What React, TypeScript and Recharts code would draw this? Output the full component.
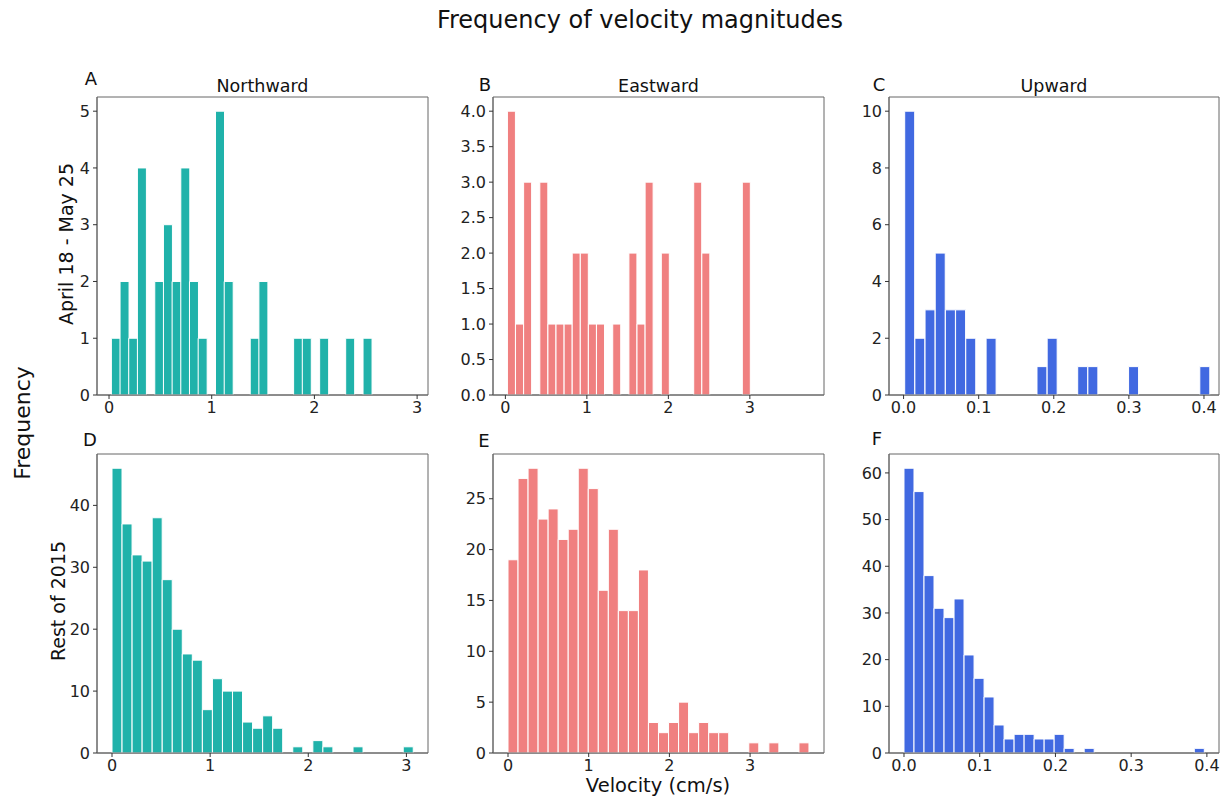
import React from 'react';
import { BarChart, Bar, XAxis, YAxis, ReferenceArea } from 'recharts';

const FONT = "'DejaVu Sans', Verdana, sans-serif";

// counts per bin (30 bins each)
const northTopCounts = [1, 2, 1, 4, 0, 2, 3, 2, 4, 2, 1, 0, 5, 2, 0, 0, 1, 2, 0, 0, 0, 1, 1, 0, 1, 0, 0, 1, 0, 1];
const eastTopCounts = [4, 1, 3, 0, 3, 1, 1, 1, 2, 2, 1, 1, 0, 1, 0, 2, 1, 3, 0, 2, 0, 0, 0, 3, 2, 0, 0, 0, 0, 3];
const upTopCounts = [10, 2, 3, 5, 3, 3, 2, 0, 2, 0, 0, 0, 0, 1, 2, 0, 0, 1, 1, 0, 0, 0, 1, 0, 0, 0, 0, 0, 0, 1];
const northRestCounts = [46, 37, 32, 31, 38, 28, 20, 16, 15, 7, 12, 10, 10, 5, 4, 6, 4, 0, 1, 0, 2, 1, 0, 0, 1, 0, 0, 0, 0, 1];
const eastRestCounts = [19, 27, 28, 23, 24, 21, 22, 28, 26, 16, 22, 14, 14, 18, 3, 2, 3, 5, 2, 3, 2, 2, 0, 0, 1, 0, 1, 0, 0, 1];
const upRestCounts = [61, 56, 38, 31, 29, 33, 21, 16, 12, 6, 3, 4, 4, 3, 3, 4, 1, 0, 1, 0, 0, 0, 0, 0, 0, 0, 0, 0, 0, 1];

// outer bin edges (cm/s)
const northTopEdges = [0.023, 2.558];
const eastTopEdges = [0.025, 3.007];
const upTopEdges = [0.0015, 0.408];
const northRestEdges = [0.0, 3.07];
const eastRestEdges = [0.0, 3.73];
const upRestEdges = [0.0, 0.3966];

// axis ranges
const northTopX = [-0.117, 3.106];
const eastTopX = [-0.152, 3.91];
const upTopX = [-0.0194, 0.42];
const northRestX = [-0.153, 3.22];
const eastRestX = [-0.186, 3.916];
const upRestX = [-0.0198, 0.416];

const northTopY = [0, 5.25];
const eastTopY = [0, 4.2];
const upTopY = [0, 10.5];
const northRestY = [0, 48.3];
const eastRestY = [0, 29.4];
const upRestY = [0, 64.05];

// tick labels
const wholeTicks = [0, 1, 2, 3];
const upTicks = [0, 0.1, 0.2, 0.3, 0.4];
const northTopYTicks = [0, 1, 2, 3, 4, 5];
const eastTopYTicks = [0, 0.5, 1, 1.5, 2, 2.5, 3, 3.5, 4];
const upTopYTicks = [0, 2, 4, 6, 8, 10];
const northRestYTicks = [0, 10, 20, 30, 40];
const eastRestYTicks = [0, 5, 10, 15, 20, 25];
const upRestYTicks = [0, 10, 20, 30, 40, 50, 60];

const columnTitles = ['Northward', 'Eastward', 'Upward'];
const rowLabels = ['April 18 - May 25', 'Rest of 2015'];
const panelLetters = ['A', 'B', 'C', 'D', 'E', 'F'];

const TEAL = '#20b2aa';
const CORAL = '#f08080';
const BLUE = '#4169e1';
const SPINE = '#666';

const binRows = (counts: number[], edges: number[]) => {
  const w = (edges[1] - edges[0]) / counts.length;
  return counts.map((count, i) => ({ v: edges[0] + (i + 0.5) * w, count }));
};

const fmt1 = (v: number) => v.toFixed(1);
const fmt0 = (v: number) => String(v);

type PanelProps = {
  left: number;
  top: number;
  w: number;
  h: number;
  rows: { v: number; count: number }[];
  color: string;
  xDomain: number[];
  yDomain: number[];
  xTicks: number[];
  yTicks: number[];
  xFmt?: (v: number) => string;
  yFmt?: (v: number) => string;
};

const tickStyle = { fontFamily: FONT, fontSize: 16, fill: '#222' };

const Panel: React.FC<PanelProps> = ({ left, top, w, h, rows, color, xDomain, yDomain, xTicks, yTicks, xFmt = fmt0, yFmt = fmt0 }) => {
  const yw = 60;
  return (
    <div style={{ position: 'absolute', left: left - yw, top: top - 10 }}>
      <BarChart
        width={w + yw + 10}
        height={h + 40}
        data={rows}
        margin={{ top: 10, right: 10, left: 0, bottom: 0 }}
        barCategoryGap={0}
        barGap={0}
      >
        <XAxis
          dataKey="v"
          type="number"
          domain={xDomain}
          ticks={xTicks}
          tickFormatter={xFmt}
          allowDataOverflow
          height={30}
          tick={tickStyle}
          tickSize={4}
          tickMargin={3}
          stroke={SPINE}
          tickLine={{ stroke: '#333' }}
        />
        <YAxis
          type="number"
          domain={yDomain}
          ticks={yTicks}
          tickFormatter={yFmt}
          allowDataOverflow
          width={yw}
          tick={tickStyle}
          tickSize={4}
          tickMargin={3}
          stroke={SPINE}
          tickLine={{ stroke: '#333' }}
        />
        <Bar dataKey="count" fill={color} stroke="#fff" strokeWidth={1} isAnimationActive={false} />
        {/* axes frame */}
        <ReferenceArea
          x1={xDomain[0]}
          x2={xDomain[1]}
          y1={yDomain[0]}
          y2={yDomain[1]}
          fill="none"
          fillOpacity={0}
          stroke={SPINE}
          strokeWidth={1}
          ifOverflow="visible"
        />
      </BarChart>
    </div>
  );
};

const App: React.FC = () => {
  return (
    <div style={{ position: 'absolute', left: 0, top: 0, width: 1226, height: 800, background: '#fff', fontFamily: FONT }}>
      <Panel left={97} top={97} w={331} h={298} rows={binRows(northTopCounts, northTopEdges)} color={TEAL}
        xDomain={northTopX} yDomain={northTopY} xTicks={wholeTicks} yTicks={northTopYTicks} />
      <Panel left={493} top={97} w={331} h={298} rows={binRows(eastTopCounts, eastTopEdges)} color={CORAL}
        xDomain={eastTopX} yDomain={eastTopY} xTicks={wholeTicks} yTicks={eastTopYTicks} yFmt={fmt1} />
      <Panel left={889} top={97} w={330} h={298} rows={binRows(upTopCounts, upTopEdges)} color={BLUE}
        xDomain={upTopX} yDomain={upTopY} xTicks={upTicks} yTicks={upTopYTicks} xFmt={fmt1} />
      <Panel left={97} top={454} w={331} h={299} rows={binRows(northRestCounts, northRestEdges)} color={TEAL}
        xDomain={northRestX} yDomain={northRestY} xTicks={wholeTicks} yTicks={northRestYTicks} />
      <Panel left={493} top={454} w={331} h={299} rows={binRows(eastRestCounts, eastRestEdges)} color={CORAL}
        xDomain={eastRestX} yDomain={eastRestY} xTicks={wholeTicks} yTicks={eastRestYTicks} />
      <Panel left={889} top={454} w={330} h={299} rows={binRows(upRestCounts, upRestEdges)} color={BLUE}
        xDomain={upRestX} yDomain={upRestY} xTicks={upTicks} yTicks={upRestYTicks} xFmt={fmt1} />

      <svg width={1226} height={800} style={{ position: 'absolute', left: 0, top: 0, pointerEvents: 'none' }}>
        <g fontFamily={FONT} fill="#111">
          <text x={640} y={28} fontSize={24} textAnchor="middle">Frequency of velocity magnitudes</text>
          <text x={262.5} y={92} fontSize={17.5} textAnchor="middle">{columnTitles[0]}</text>
          <text x={658.5} y={92} fontSize={17.5} textAnchor="middle">{columnTitles[1]}</text>
          <text x={1054} y={92} fontSize={17.5} textAnchor="middle">{columnTitles[2]}</text>
          <text x={91} y={85} fontSize={18} textAnchor="middle">{panelLetters[0]}</text>
          <text x={485} y={91} fontSize={18} textAnchor="middle">{panelLetters[1]}</text>
          <text x={879} y={91} fontSize={18} textAnchor="middle">{panelLetters[2]}</text>
          <text x={90} y={446} fontSize={18} textAnchor="middle">{panelLetters[3]}</text>
          <text x={484} y={447} fontSize={18} textAnchor="middle">{panelLetters[4]}</text>
          <text x={877} y={445} fontSize={18} textAnchor="middle">{panelLetters[5]}</text>
          <text x={73} y={244} fontSize={19} textAnchor="middle" transform="rotate(-90 73 244)">{rowLabels[0]}</text>
          <text x={65} y={601} fontSize={19} textAnchor="middle" transform="rotate(-90 65 601)">{rowLabels[1]}</text>
          <text x={30} y={423} fontSize={22} textAnchor="middle" transform="rotate(-90 30 423)">Frequency</text>
          <text x={658} y={792} fontSize={19.5} textAnchor="middle">Velocity (cm/s)</text>
        </g>
      </svg>
    </div>
  );
};

export default App;
